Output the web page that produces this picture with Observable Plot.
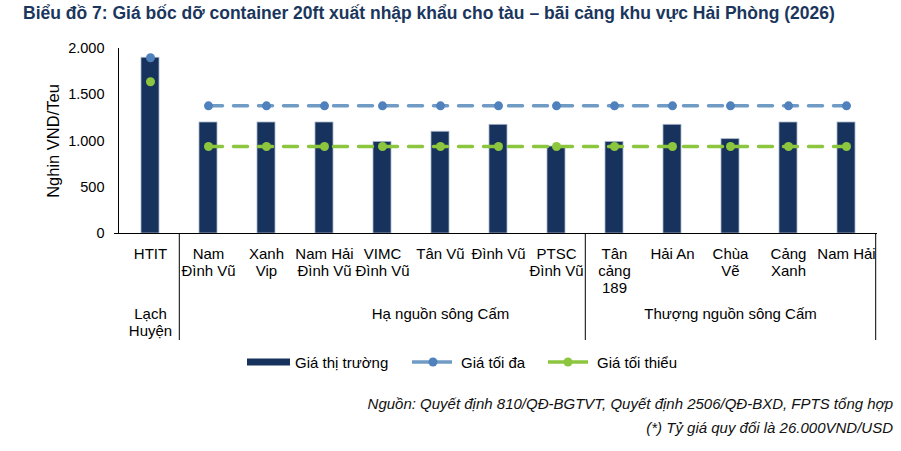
<!DOCTYPE html>
<html><head><meta charset="utf-8">
<script src="https://cdn.jsdelivr.net/npm/d3@7"></script>
<script src="https://cdn.jsdelivr.net/npm/@observablehq/plot@0.6"></script>
<style>
body{margin:0;background:#fff;font-family:"Liberation Sans",Arial,sans-serif;}
#wrap{position:relative;width:901px;height:451px;overflow:hidden;background:#fff;}
#title{position:absolute;left:23px;top:3px;font-weight:bold;font-size:17.5px;line-height:20px;color:#1b365d;white-space:nowrap;}
#chart{position:absolute;left:0;top:30px;}
#legend{position:absolute;left:0;top:350px;}
.note{position:absolute;right:8px;font-style:italic;font-size:15px;line-height:17px;color:#111;white-space:nowrap;}
</style></head>
<body>
<div id="wrap">
  <div id="title">Biểu đồ 7: Giá bốc dỡ container 20ft xuất nhập khẩu cho tàu – bãi cảng khu vực Hải Phòng (2026)</div>
  <div id="chart"></div>
  <svg id="legend" width="901" height="24" font-family="Liberation Sans, Arial, sans-serif" font-size="15">
    <rect x="247" y="8.5" width="43" height="7" fill="#17325c"></rect>
    <text x="295" y="12" dominant-baseline="central" fill="#000">Giá thị trường</text>
    <line x1="412" x2="452" y1="12" y2="12" stroke="#6f9bc4" stroke-width="3.5"></line>
    <circle cx="433" cy="12" r="4.5" fill="#4f81bd"></circle>
    <text x="461" y="12" dominant-baseline="central" fill="#000">Giá tối đa</text>
    <line x1="548" x2="588" y1="12" y2="12" stroke="#8cc63f" stroke-width="3.5"></line>
    <circle cx="568" cy="12" r="4.5" fill="#8cc63f"></circle>
    <text x="597" y="12" dominant-baseline="central" fill="#000">Giá tối thiểu</text>
  </svg>
  <div class="note" style="top:395px">Nguồn: Quyết định 810/QĐ-BGTVT, Quyết định 2506/QĐ-BXD, FPTS tổng hợp</div>
  <div class="note" style="top:419px">(*) Tỷ giá quy đổi là 26.000VND/USD</div>
</div>
<script>
const categories = ["HTIT","Nam\nĐình Vũ","Xanh\nVip","Nam Hải\nĐình Vũ","VIMC\nĐình Vũ","Tân Vũ","Đình Vũ","PTSC\nĐình Vũ","Tân\ncảng\n189","Hải An","Chùa\nVẽ","Cảng\nXanh","Nam Hải"];
const groups = ["Lạch Huyện","Hạ nguồn","Hạ nguồn","Hạ nguồn","Hạ nguồn","Hạ nguồn","Hạ nguồn","Hạ nguồn","Thượng nguồn","Thượng nguồn","Thượng nguồn","Thượng nguồn","Thượng nguồn"];
const marketPrice = [1900,1200,1200,1200,990,1100,1175,940,990,1175,1020,1200,1200];
const maxPrice = [1900,1380,1380,1380,1380,1380,1380,1380,1380,1380,1380,1380,1380];
const minPrice = [1640,940,940,940,940,940,940,940,940,940,940,940,940];
const yTicks = [0,500,1000,1500,2000];
const groupLabels = [
  {label:"Lạch\nHuyện", at:"HTIT"},
  {label:"Hạ nguồn sông Cấm", at:"Tân Vũ"},
  {label:"Thượng nguồn sông Cấm", at:"Chùa\nVẽ"}
];
const leftSeparators = ["Nam\nĐình Vũ","Tân\ncảng\n189"];
const rightSeparators = ["Nam Hải"];

const data = categories.map((c,i)=>({
  cat:c, group:groups[i], market:marketPrice[i], max:maxPrice[i], min:minPrice[i],
  series: groups[i]==="Lạch Huyện" ? "a" : "b"
}));

const W=901, H=315, ML=118, MR=24, MT=18, MB=112;
const step=(W-ML-MR)/categories.length;
const fmt = d3.formatLocale({decimal:",",thousands:".",grouping:[3],currency:["",""]}).format(",");

const chart = Plot.plot({
  width:W, height:H, marginTop:MT, marginBottom:MB, marginLeft:ML, marginRight:MR,
  style:{fontFamily:"Liberation Sans, Arial, sans-serif", fontSize:"15px", color:"#000", background:"transparent", overflow:"visible"},
  x:{type:"band", domain:categories, padding:0, axis:null},
  y:{domain:[0,2000], axis:null},
  marks:[
    Plot.axisY({ticks:yTicks, tickSize:0, tickPadding:14, tickFormat:fmt, label:null, fontSize:14.5}),
    Plot.text(["Nghin VND/Teu"], {frameAnchor:"left", textAnchor:"middle", dx:-65, rotate:-90, fontSize:16.5, fill:"#000"}),
    Plot.frame({anchor:"left", stroke:"#000"}),
    Plot.barY(data, {x:"cat", y:"market", fill:"#17325c", stroke:"#a9b7cb", strokeWidth:0.8, insetLeft:20, insetRight:20}),
    Plot.ruleY([0], {stroke:"#000", insetLeft:-4}),
    Plot.ruleX(leftSeparators, {x:d=>d, y1:0, y2:0, insetBottom:-107, dx:-step/2, stroke:"#000"}),
    Plot.ruleX(rightSeparators, {x:d=>d, y1:0, y2:0, insetBottom:-107, dx:step/2, stroke:"#000"}),
    Plot.line(data, {x:"cat", y:"max", z:"series", stroke:"#6f9bc4", strokeWidth:3.5, strokeDasharray:"14,11"}),
    Plot.dot(data, {x:"cat", y:"max", r:4.5, fill:"#4f81bd"}),
    Plot.line(data, {x:"cat", y:"min", z:"series", stroke:"#8cc63f", strokeWidth:3.5, strokeDasharray:"14,11"}),
    Plot.dot(data, {x:"cat", y:"min", r:4.5, fill:"#8cc63f"}),
    Plot.text(data, {x:"cat", text:"cat", frameAnchor:"bottom", lineAnchor:"top", dy:14, lineHeight:1.12, fontSize:15, fill:"#000"}),
    Plot.text(groupLabels, {x:"at", text:"label", frameAnchor:"bottom", lineAnchor:"top", dy:74, lineHeight:1.12, fontSize:15, fill:"#000"})
  ]
});
document.getElementById("chart").appendChild(chart);
</script>
</body></html>
